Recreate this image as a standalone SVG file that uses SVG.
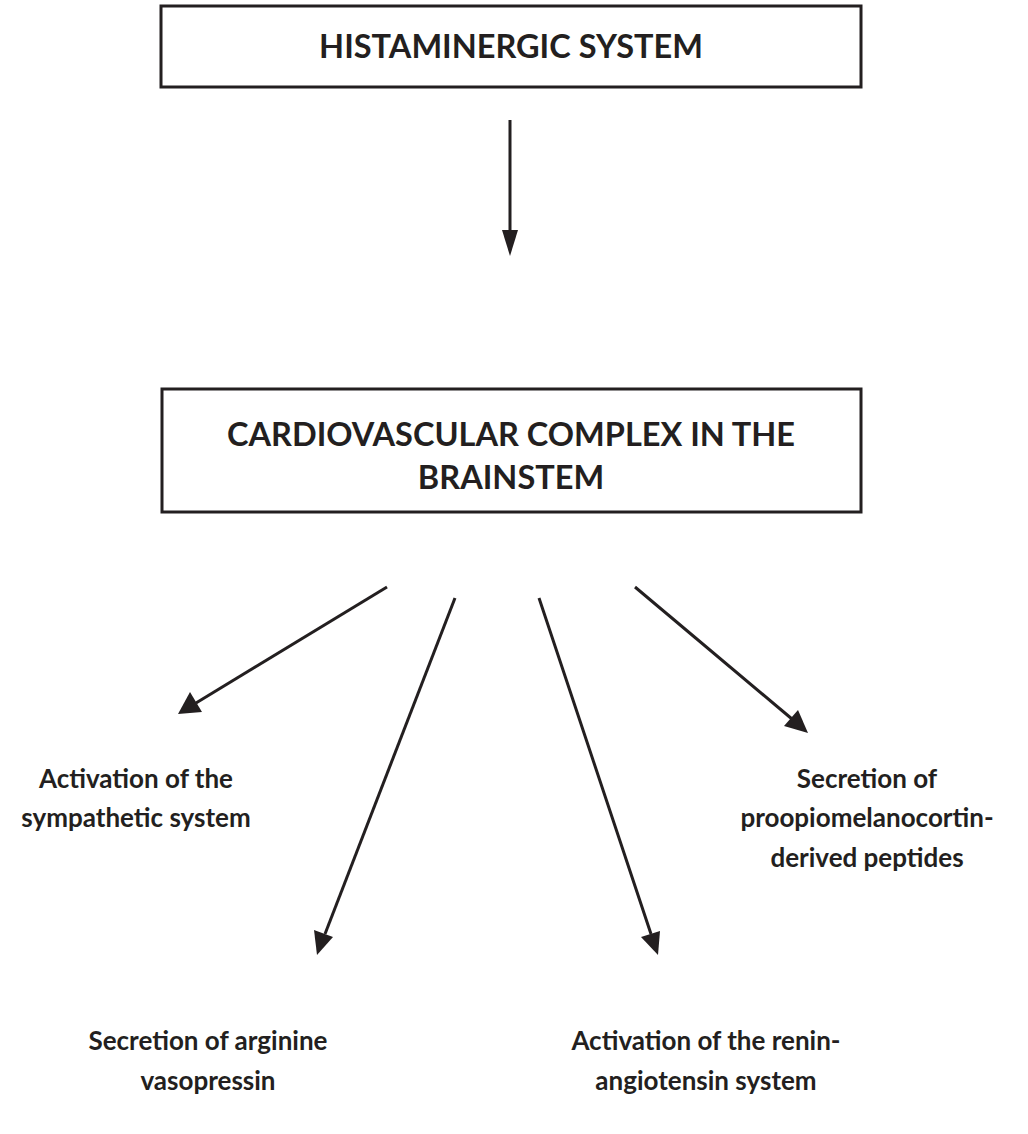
<svg xmlns="http://www.w3.org/2000/svg" width="1028" height="1134" viewBox="0 0 1028 1134">
<defs>
<style>
.box{fill:#fff;stroke:#231f20;stroke-width:3}
.t{font-family:Lato,"Liberation Sans",sans-serif;font-weight:bold;fill:#231f20;text-anchor:middle}
.big{font-size:32.5px}
.sm{font-size:26px}
.ln{stroke:#231f20;stroke-width:3;fill:none}
.hd{fill:#231f20}
</style>
</defs>
<rect width="1028" height="1134" fill="#fff"/>
<g id="node-histaminergic">
<rect class="box" x="161" y="6" width="700" height="81"/>
<text class="t big" x="511" y="58">HISTAMINERGIC SYSTEM</text>
</g>
<g id="node-cardiovascular">
<rect class="box" x="162" y="389" width="699" height="123"/>
<text class="t big" x="511" y="446">CARDIOVASCULAR COMPLEX IN THE</text>
<text class="t big" x="511" y="489">BRAINSTEM</text>
</g>
<g id="node-sympathetic">
<text class="t sm" x="136" y="788">Activation of the</text>
<text class="t sm" x="136" y="827">sympathetic system</text>
</g>
<g id="node-pomc">
<text class="t sm" x="867" y="788">Secretion of</text>
<text class="t sm" x="867" y="827">proopiomelanocortin-</text>
<text class="t sm" x="867" y="867">derived peptides</text>
</g>
<g id="node-avp">
<text class="t sm" x="208" y="1050">Secretion of arginine</text>
<text class="t sm" x="208" y="1090">vasopressin</text>
</g>
<g id="node-ras">
<text class="t sm" x="706" y="1050">Activation of the renin-</text>
<text class="t sm" x="706" y="1090">angiotensin system</text>
</g>
<g id="connectors">
<line class="ln" x1="510" y1="120" x2="510" y2="232"/>
<polygon class="hd" points="502,230 518,230 510,256"/>
<line class="ln" x1="387" y1="587" x2="196" y2="703"/>
<polygon class="hd" points="178,714 190,692 202,712"/>
<line class="ln" x1="455" y1="598" x2="325" y2="934"/>
<polygon class="hd" points="317,955 314,930 333,937"/>
<line class="ln" x1="539" y1="598" x2="651" y2="934"/>
<polygon class="hd" points="658,955 641,937 660,931"/>
<line class="ln" x1="635" y1="587" x2="792" y2="719"/>
<polygon class="hd" points="808,733 784,726 798,710"/>
</g>
</svg>
